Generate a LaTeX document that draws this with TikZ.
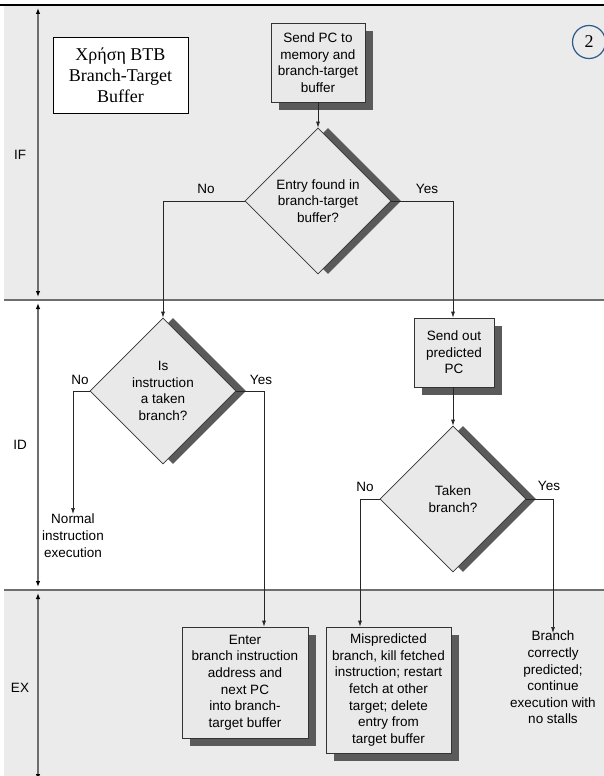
\documentclass[tikz,border=0pt]{standalone}
\usepackage{fontspec}
\setmainfont{Liberation Sans}
\newfontfamily\serifgr{Liberation Serif}
\usetikzlibrary{shapes.geometric,shadows,arrows.meta}

\definecolor{band}{HTML}{EBEBEB}
\definecolor{boxfill}{HTML}{E9E9E9}
\definecolor{shade}{HTML}{5A5A5A}
\definecolor{rule}{HTML}{6E6E6E}
\definecolor{ringblue}{HTML}{2E5A8C}

\begin{document}
\begin{tikzpicture}[x=1pt,y=-1pt,
  font=\fontsize{13.5}{16.6}\selectfont,
  stepbox/.style={draw=black!80, fill=boxfill, line width=0.7pt, align=center,
    inner sep=0pt, drop shadow={fill=shade, opacity=1, shadow xshift=8pt, shadow yshift=-8pt}},
  decision/.style={diamond, draw=black!80, fill=boxfill, line width=0.7pt, align=center,
    inner sep=0pt, minimum width=146pt, minimum height=146pt,
    drop shadow={fill=shade, opacity=1, shadow xshift=10pt, shadow yshift=0pt}},
  flow/.style={draw=black!85, line width=0.7pt, -{Latex[length=6pt,width=4pt]}},
  plain/.style={align=center, inner sep=0pt},
  axis/.style={draw=rule, line width=1.1pt,
    {Latex[length=6pt,width=4.5pt,black]}-{Latex[length=6pt,width=4.5pt,black]}},
  stage/.style={inner sep=0pt},
]
\useasboundingbox (0,0) rectangle (604,776);

% pipeline stage bands
\fill[band] (4,5) rectangle (604,300);
\fill[white] (4,300) rectangle (604,590);
\fill[band] (4,590) rectangle (604,776);
\draw[black, line width=1.4pt] (0,5) -- (604,5);
\draw[rule, line width=1.2pt] (4,300) -- (604,300);
\draw[rule, line width=1.2pt] (4,590) -- (604,590);

% stage extents on the left
\draw[axis] (38,8) -- (38,297);
\draw[axis] (38,303) -- (38,587);
\draw[axis] (38,593) -- (38,780);
\node[stage] (if) at (20,155) {IF};
\node[stage] (id) at (20,445) {ID};
\node[stage] (ex) at (20,688) {EX};

% title and slide number
\node[draw=black, fill=white, line width=0.8pt, align=center, inner sep=0pt,
  minimum width=135pt, minimum height=76pt,
  font=\serifgr\fontsize{18}{21}\selectfont] (title) at (120.5,75)
  {Χρήση BTB\\Branch-Target\\Buffer};
\node[circle, draw=ringblue, line width=1.2pt, minimum size=33pt, inner sep=0pt,
  font=\serifgr\fontsize{18}{18}\selectfont] (tag) at (589,42) {2};

% IF stage
\node[stepbox, minimum width=94pt, minimum height=79pt] (send) at (318,62.5)
  {Send PC to\\memory and\\branch-target\\buffer};
\node[decision] (found) at (318,201) {Entry found in\\branch-target\\buffer?};

% ID stage
\node[decision] (taken1) at (163,391) {Is\\instruction\\a taken\\branch?};
\node[stepbox, minimum width=80pt, minimum height=69pt] (predict) at (454,352.5)
  {Send out\\predicted\\PC};
\node[decision] (taken2) at (453,499) {Taken\\branch?};
\node[plain, anchor=north] (normal) at (73,514) {Normal\\instruction\\execution};

% EX stage
\node[stepbox, minimum width=126pt, minimum height=111pt] (enter) at (245,682.5)
  {Enter\\branch instruction\\address and\\next PC\\into branch-\\target buffer};
\node[stepbox, minimum width=125pt, minimum height=126pt] (mispred) at (388.5,690)
  {Mispredicted\\branch, kill fetched\\instruction; restart\\fetch at other\\target; delete\\entry from\\target buffer};
\node[plain, anchor=north] (correct) at (553,631)
  {Branch\\correctly\\predicted;\\continue\\execution with\\no stalls};

% connectors
\draw[flow] (send) -- (found);
\draw[flow] (found.west) -| (taken1.north);
\draw[flow] (found.east) -| ([xshift=-1pt]predict.north);
\draw[flow] ([xshift=-1pt]predict.south) -- (taken2.north);
\draw[flow] (taken1.west) -| (normal.north);
\draw[flow] (taken1.east) -| ([xshift=19pt]enter.north);
\draw[flow] (taken2.west) -| ([xshift=-28.5pt]mispred.north);
\draw[flow] (taken2.east) -| ([yshift=-2pt]correct.north);

% branch labels
\node[stage] (no1) at (206,189) {No};
\node[stage] (yes1) at (427,189) {Yes};
\node[stage] (no2) at (80,380) {No};
\node[stage] (yes2) at (261,380) {Yes};
\node[stage] (no3) at (365,487) {No};
\node[stage] (yes3) at (549,486) {Yes};
\end{tikzpicture}
\end{document}
